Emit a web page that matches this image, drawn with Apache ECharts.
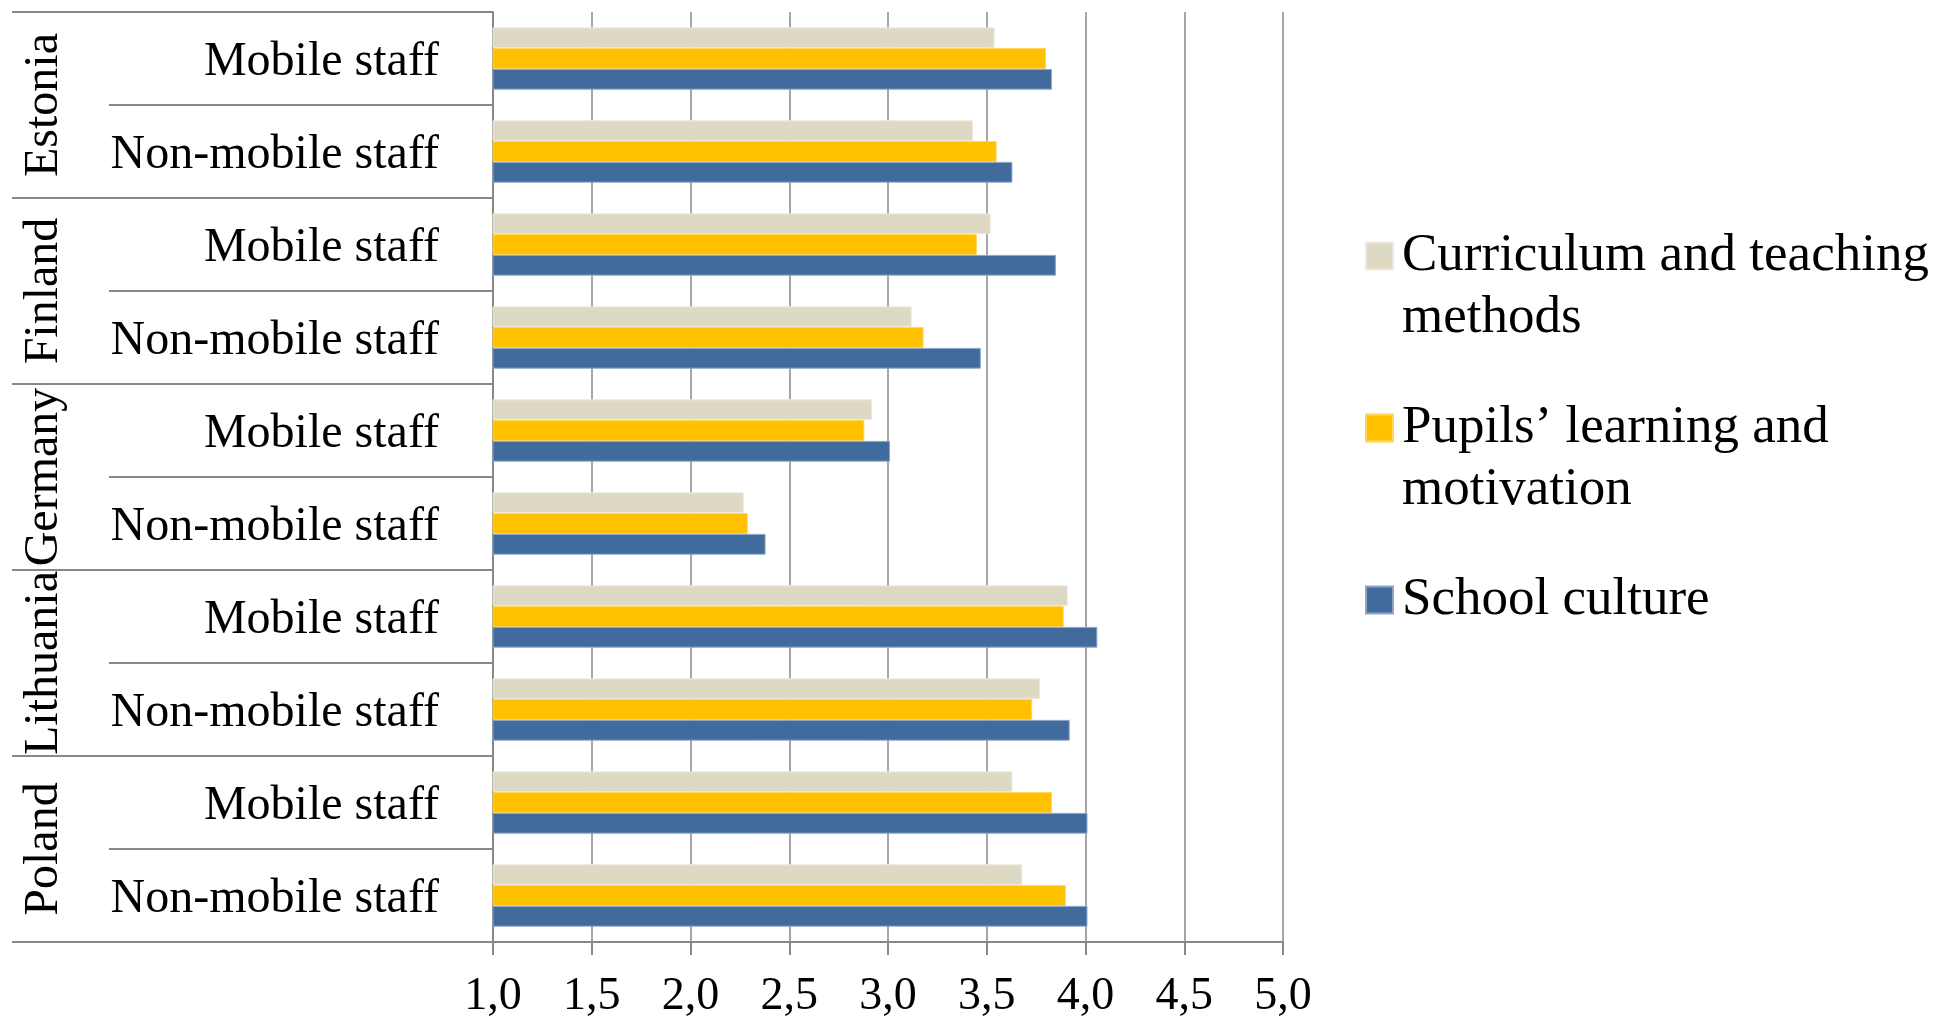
<!DOCTYPE html>
<html>
<head>
<meta charset="utf-8">
<title>Staff perceptions by country</title>
<script src="https://cdn.jsdelivr.net/npm/echarts@6/dist/echarts.min.js"></script>
<style>
  html, body { margin: 0; padding: 0; background: #ffffff; }
  #chart { width: 1938px; height: 1021px; }
</style>
</head>
<body>
<div id="chart"></div>
<script>
// Countries (outer level) and staff groups (inner level), listed top to bottom
const countries = ['Estonia', 'Finland', 'Germany', 'Lithuania', 'Poland'];
const staffGroups = ['Mobile staff', 'Non-mobile staff'];

// Series names and how each legend entry wraps
const seriesNames = ['Curriculum and teaching methods', 'Pupils’ learning and motivation', 'School culture'];
const legendLines = [['Curriculum and teaching', 'methods'], ['Pupils’ learning and', 'motivation'], ['School culture']];
const seriesColors = ['#DDD9C3', '#FFC000', '#416A9D'];
const seriesBorders = ['#ECEADF', '#FFD55A', '#8DA6C8'];

// Mean scores, one value per row (Estonia Mobile, Estonia Non-mobile, Finland Mobile, ...)
const curriculum = [3.54, 3.43, 3.52, 3.12, 2.92, 2.27, 3.91, 3.77, 3.63, 3.68];
const pupils     = [3.80, 3.55, 3.45, 3.18, 2.88, 2.29, 3.89, 3.73, 3.83, 3.90];
const culture    = [3.83, 3.63, 3.85, 3.47, 3.01, 2.38, 4.06, 3.92, 4.01, 4.01];

// Value axis ticks
const xMin = 1.0, xMax = 5.0, xStep = 0.5;

const rowLabels = [];
countries.forEach(function () { staffGroups.forEach(function (g) { rowLabels.push(g); }); });
const seriesData = [curriculum, pupils, culture];

const FONT = '"Liberation Serif", "Times New Roman", serif';
const GRID_GREY = '#888888';

const chart = echarts.init(document.getElementById('chart'), null, { renderer: 'canvas' });

const option = {
  backgroundColor: '#ffffff',
  animation: false,
  grid: { left: 493, right: 655, top: 12, bottom: 79, containLabel: false },
  legend: {
    orient: 'vertical',
    left: 1365,
    top: 163,
    padding: 0,
    itemGap: -14,
    itemWidth: 27,
    itemHeight: 27,
    icon: 'rect',
    selectedMode: false,
    data: seriesNames,
    formatter: function (name) {
      const lines = legendLines[seriesNames.indexOf(name)];
      return '\n' + lines.join('\n') + (lines.length === 1 ? '\n' : '');
    },
    textStyle: {
      fontFamily: FONT,
      fontSize: 53,
      lineHeight: 62,
      color: '#000000',
      padding: [0, 0, 0, 4]
    }
  },
  xAxis: {
    type: 'value',
    min: xMin,
    max: xMax,
    interval: xStep,
    axisLine: { show: true, lineStyle: { color: GRID_GREY, width: 2 } },
    axisTick: { show: true, length: 13, lineStyle: { color: GRID_GREY, width: 2 } },
    splitLine: { show: true, lineStyle: { color: GRID_GREY, width: 1.5 } },
    axisLabel: {
      margin: 32,
      fontFamily: FONT,
      fontSize: 46,
      color: '#000000',
      formatter: function (v) { return v.toFixed(1).replace('.', ','); }
    }
  },
  yAxis: [
    {
      // inner level: staff group per row
      type: 'category',
      data: rowLabels,
      inverse: true,
      position: 'left',
      axisLine: { show: true, lineStyle: { color: GRID_GREY, width: 2 } },
      axisTick: { show: true, interval: 0, length: 384, lineStyle: { color: GRID_GREY, width: 2 } },
      axisLabel: {
        interval: 0,
        margin: 54,
        formatter: function (v) { return '{g|' + v + '}'; },
        rich: {
          g: {
            fontFamily: FONT,
            fontSize: 48,
            color: '#000000',
            padding: [8, 0, 0, 0]
          }
        }
      },
      splitLine: { show: false }
    },
    {
      // outer level: country spanning two rows
      type: 'category',
      data: countries,
      inverse: true,
      position: 'left',
      offset: 0,
      axisLine: { show: false },
      axisTick: { show: true, interval: 0, length: 481, lineStyle: { color: GRID_GREY, width: 2 } },
      axisLabel: {
        interval: 0,
        rotate: 90,
        margin: 425,
        fontFamily: FONT,
        fontSize: 48,
        color: '#000000'
      },
      splitLine: { show: false }
    }
  ],
  series: seriesNames.map(function (name, i) {
    return {
      name: name,
      type: 'bar',
      xAxisIndex: 0,
      yAxisIndex: 0,
      data: seriesData[i],
      barGap: '0%',
      barCategoryGap: '33%',
      itemStyle: { color: seriesColors[i], borderColor: seriesBorders[i], borderWidth: 1 },
      emphasis: { disabled: true }
    };
  })
};

chart.setOption(option);
</script>
</body>
</html>
